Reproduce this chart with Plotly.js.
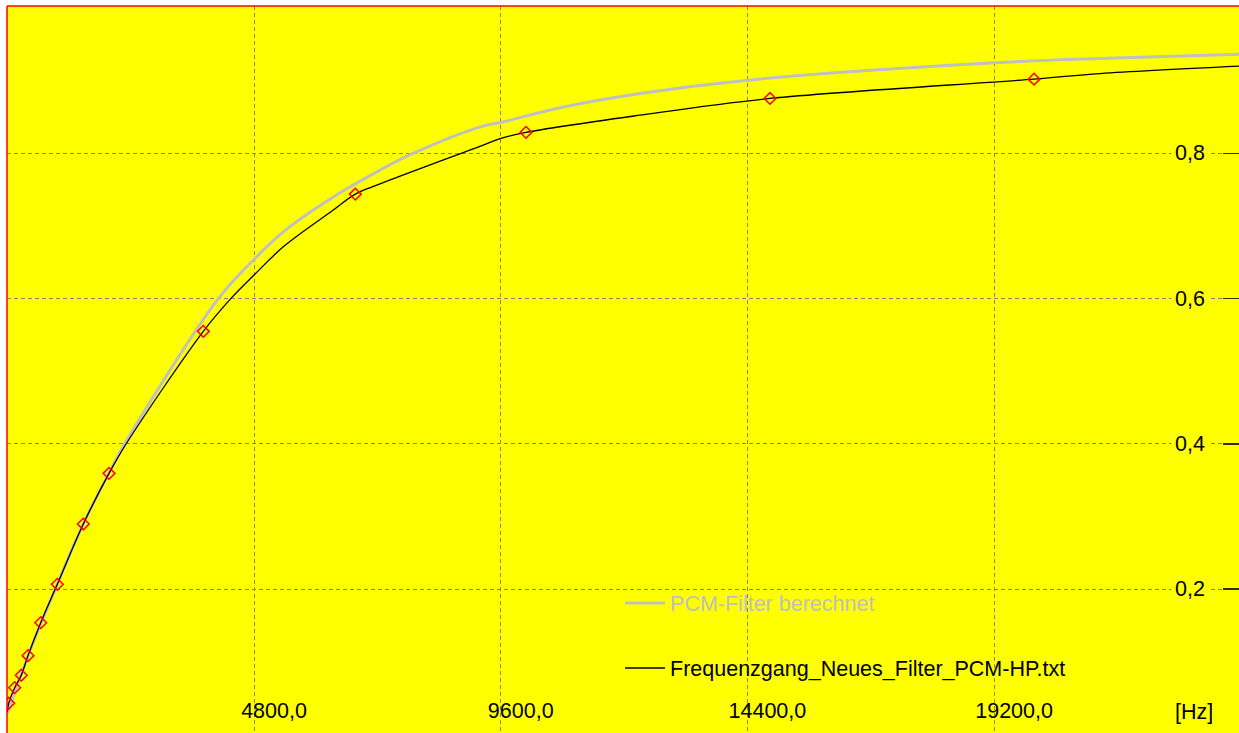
<!DOCTYPE html>
<html>
<head>
<meta charset="utf-8">
<script src="https://cdn.plot.ly/plotly-3.0.1.min.js"></script>
<style>
  html, body { margin: 0; padding: 0; background: #ffffff; }
  #chart { width: 1239px; height: 733px; }
</style>
</head>
<body>
<div id="chart"></div>
<script>
// ---- data ----
// computed filter response (grey curve)
var calcFreq = [0, 403, 973, 1479, 1979, 2290, 4106, 4800, 5370, 6343, 7252, 7893, 9207, 9606, 10754, 12310, 14412, 19204, 21260, 23966];
var calcGain = [0.028, 0.108, 0.207, 0.290, 0.360, 0.401, 0.600, 0.654, 0.692, 0.740, 0.777, 0.800, 0.8366, 0.8427, 0.863, 0.8826, 0.9009, 0.9247, 0.9307, 0.9367];

// measured response curve (black line)
var measFreq = [0, 27, 144, 272, 403, 650, 973, 1479, 1979, 2323, 3814, 4353, 4800, 5370, 6343, 6771, 7252, 9207, 9606, 10092, 12310, 14840, 19977, 21260, 23966];
var measGain = [0.031, 0.043, 0.0644, 0.0815, 0.1085, 0.1539, 0.2067, 0.2897, 0.3595, 0.4013, 0.555, 0.6004, 0.6325, 0.6714, 0.722, 0.744, 0.758, 0.810, 0.8207, 0.829, 0.8527, 0.8757, 0.9023, 0.910, 0.9202];

// measured sample points (red diamonds)
var ptFreq = [27, 144, 272, 403, 650, 973, 1479, 1979, 3814, 6771, 10092, 14840, 19977];
var ptGain = [0.043, 0.0644, 0.0815, 0.1085, 0.1539, 0.2067, 0.2897, 0.3595, 0.555, 0.744, 0.829, 0.8757, 0.9023];

var xTickVals = [4800, 9600, 14400, 19200];
var xTickText = ['4800,0', '9600,0', '14400,0', '19200,0'];
var yTickVals = [0.2, 0.4, 0.6, 0.8];
var yTickText = ['0,2', '0,4', '0,6', '0,8'];

var nameCalc = 'PCM-Filter berechnet';
var nameMeas = 'Frequenzgang_Neues_Filter_PCM-HP.txt';
var unitLabel = '[Hz]';

// ---- chart ----
var FONT = 'Liberation Sans, Arial, sans-serif';
var FS = 21.5;

var traces = [
  {
    x: calcFreq, y: calcGain, name: nameCalc, type: 'scatter', mode: 'lines',
    line: {color: '#c0c0c0', width: 3, shape: 'spline', smoothing: 1},
    legend: 'legend', hoverinfo: 'skip'
  },
  {
    x: measFreq, y: measGain, name: nameMeas, type: 'scatter', mode: 'lines',
    line: {color: '#000000', width: 1.3, shape: 'spline', smoothing: 1},
    legend: 'legend2', hoverinfo: 'skip'
  },
  {
    x: ptFreq, y: ptGain, name: nameMeas + ' points', type: 'scatter', mode: 'markers',
    marker: {symbol: 'diamond-open', size: 9, color: '#ff0000', line: {width: 1.5, color: '#ff0000'}},
    showlegend: false, hoverinfo: 'skip'
  }
];

var annotations = yTickVals.map(function (v, i) {
  return {
    xref: 'paper', yref: 'y', x: 0.9605, y: v, xanchor: 'center', yanchor: 'middle',
    text: yTickText[i], showarrow: false, bgcolor: '#ffff00', borderpad: 3,
    font: {family: FONT, size: FS, color: '#000000'}
  };
});
annotations.push({
  xref: 'paper', yref: 'paper', x: 0.9635, y: 0.029, xanchor: 'center', yanchor: 'middle',
  text: unitLabel, showarrow: false,
  font: {family: FONT, size: FS, color: '#000000'}
});

var layout = {
  width: 1239, height: 733,
  margin: {l: 7, r: 0, t: 6, b: 0, pad: 0},
  paper_bgcolor: '#ffffff',
  plot_bgcolor: '#ffff00',
  font: {family: FONT, size: FS, color: '#000000'},
  xaxis: {
    range: [-6, 23965], tickvals: xTickVals, ticktext: xTickText,
    showgrid: true, gridcolor: '#828282', gridwidth: 1, griddash: '4px,3px',
    zeroline: false, showline: false, ticks: '',
    ticklabelposition: 'inside', ticklabelshift: 20, ticklabelstandoff: 8,
    tickfont: {family: FONT, size: FS, color: '#000000'}, fixedrange: true
  },
  yaxis: {
    range: [0.002, 1.003], tickvals: yTickVals, side: 'right',
    showgrid: true, gridcolor: '#828282', gridwidth: 1, griddash: '4px,3px',
    zeroline: false, showline: false,
    ticks: 'inside', ticklen: 16, tickcolor: '#303000', tickwidth: 1.5,
    showticklabels: false, fixedrange: true
  },
  showlegend: true,
  legend: {
    x: 0.4976, y: 0.1788, xanchor: 'left', yanchor: 'middle', itemwidth: 40,
    bgcolor: 'rgba(0,0,0,0)', borderwidth: 0,
    font: {family: FONT, size: FS, color: '#c0c0c0'}
  },
  legend2: {
    x: 0.4976, y: 0.0894, xanchor: 'left', yanchor: 'middle', itemwidth: 40,
    bgcolor: 'rgba(0,0,0,0)', borderwidth: 0,
    font: {family: FONT, size: FS, color: '#000000'}
  },
  annotations: annotations,
  shapes: [
    {type: 'line', xref: 'paper', yref: 'paper', x0: 0, x1: 0, y0: 0, y1: 1, line: {color: '#ff0000', width: 1.5}},
    {type: 'line', xref: 'paper', yref: 'paper', x0: 0, x1: 1, y0: 1, y1: 1, line: {color: '#ff0000', width: 1.5}}
  ]
};

Plotly.newPlot('chart', traces, layout, {displayModeBar: false, staticPlot: true});
</script>
</body>
</html>
